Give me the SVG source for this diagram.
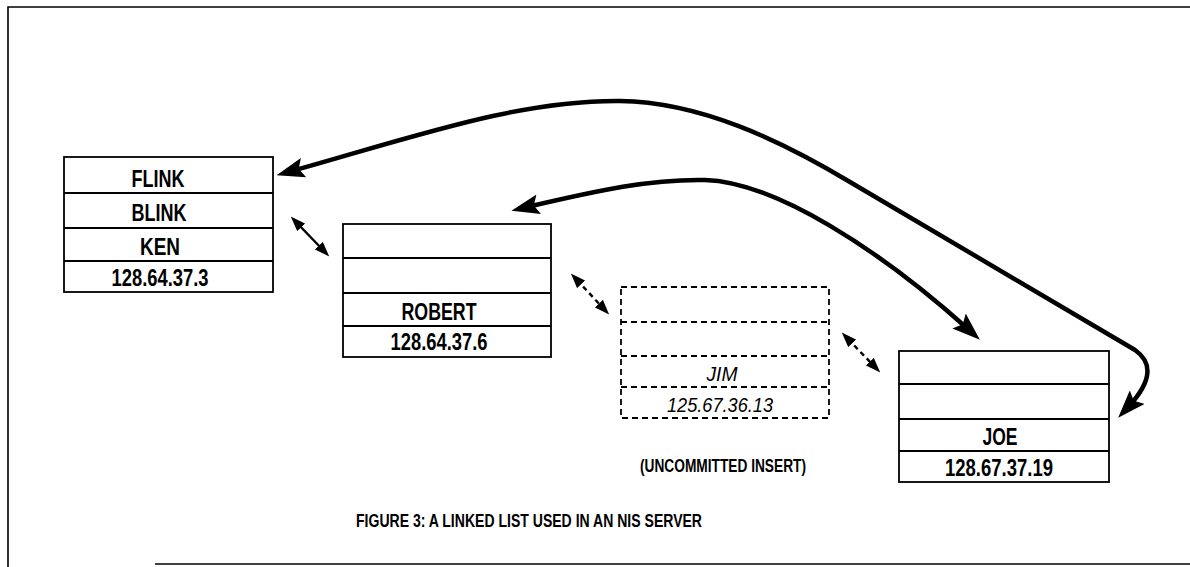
<svg xmlns="http://www.w3.org/2000/svg" width="1190" height="567" viewBox="0 0 1190 567">
<defs>
<style>
.box{fill:#fff;stroke:#000;stroke-width:1.8}
.dbox{fill:none;stroke:#000;stroke-width:1.8;stroke-dasharray:6,4}
.lbl{font-family:"Liberation Sans",Arial,sans-serif;font-weight:bold;font-size:24px;fill:#000;text-anchor:middle}
.ital{font-family:"Liberation Sans",Arial,sans-serif;font-style:italic;font-size:21px;fill:#000;text-anchor:middle}
.cap{font-family:"Liberation Sans",Arial,sans-serif;font-weight:bold;font-size:19px;fill:#000;text-anchor:middle}
.thick{fill:none;stroke:#000;stroke-width:4.5;stroke-linecap:round;marker-start:url(#big);marker-end:url(#big)}
.thin{fill:none;stroke:#000;stroke-width:2.4;marker-start:url(#small);marker-end:url(#small)}
.thin.dash{stroke-dasharray:5,4}
</style>
<marker id="big" viewBox="0 0 28 20" refX="12" refY="10" markerWidth="28" markerHeight="20" markerUnits="userSpaceOnUse" orient="auto-start-reverse">
<path d="M0,0 L28,10 L0,20 L5,10 z" fill="#000"/>
</marker>
<marker id="small" viewBox="0 0 15 11" refX="6" refY="5.5" markerWidth="15" markerHeight="11" markerUnits="userSpaceOnUse" orient="auto-start-reverse">
<path d="M0,0 L15,5.5 L0,11 z" fill="#000"/>
</marker>
</defs>
<rect width="1190" height="567" fill="#fff"/>
<g id="frame" stroke="#000" stroke-width="1.6" fill="none">
<path d="M8,567 L8,7 L1190,7"/>
<path d="M155,564 L1190,564"/>
</g>
<g id="connectors">
<path class="thick" d="M292,171 C420,135 520,100 620,101 C700,102 780,140 850,182 L1135,350 C1152,362 1153,380 1129,406"/>
<path class="thick" d="M527,207 C600,190 650,179 705,180 C775,182 880,250 968,329"/>
<path class="thin" d="M297,223 L323,250"/>
<path class="thin dash" d="M577,280 L603,308"/>
<path class="thin dash" d="M848,339 L874,366"/>
</g>
<g id="node-ken">
<rect class="box" x="64" y="157" width="209" height="135"/>
<path d="M64,193 H273 M64,228 H273 M64,261 H273" stroke="#000" stroke-width="1.8"/>
<text class="lbl" x="158" y="187" textLength="53" lengthAdjust="spacingAndGlyphs">FLINK</text>
<text class="lbl" x="159" y="221" textLength="55" lengthAdjust="spacingAndGlyphs">BLINK</text>
<text class="lbl" x="160" y="255" textLength="40" lengthAdjust="spacingAndGlyphs">KEN</text>
<text class="lbl" x="160" y="286" textLength="97" lengthAdjust="spacingAndGlyphs">128.64.37.3</text>
</g>
<g id="node-robert">
<rect class="box" x="343" y="224" width="208" height="133"/>
<path d="M343,258 H551 M343,293 H551 M343,326 H551" stroke="#000" stroke-width="1.8"/>
<text class="lbl" x="439" y="320" textLength="75" lengthAdjust="spacingAndGlyphs">ROBERT</text>
<text class="lbl" x="439" y="350" textLength="97" lengthAdjust="spacingAndGlyphs">128.64.37.6</text>
</g>
<g id="node-jim">
<rect class="dbox" x="621" y="287" width="208" height="131"/>
<path class="dbox" d="M621,322 H829 M621,356 H829 M621,387 H829"/>
<text class="ital" x="722" y="381" textLength="31" lengthAdjust="spacingAndGlyphs">JIM</text>
<text class="ital" x="720" y="412" textLength="106" lengthAdjust="spacingAndGlyphs">125.67.36.13</text>
</g>
<g id="node-joe">
<rect class="box" x="899" y="351" width="210" height="131"/>
<path d="M899,384 H1109 M899,419 H1109 M899,451 H1109" stroke="#000" stroke-width="1.8"/>
<text class="lbl" x="1000" y="445" textLength="35" lengthAdjust="spacingAndGlyphs">JOE</text>
<text class="lbl" x="999" y="476" textLength="108" lengthAdjust="spacingAndGlyphs">128.67.37.19</text>
</g>
<g id="label-uncommitted">
<text class="cap" x="723" y="472" textLength="166" lengthAdjust="spacingAndGlyphs">(UNCOMMITTED INSERT)</text>
</g>
<g id="caption">
<text class="cap" x="529" y="527" textLength="346" lengthAdjust="spacingAndGlyphs">FIGURE 3:  A LINKED LIST USED IN AN NIS SERVER</text>
</g>
</svg>
